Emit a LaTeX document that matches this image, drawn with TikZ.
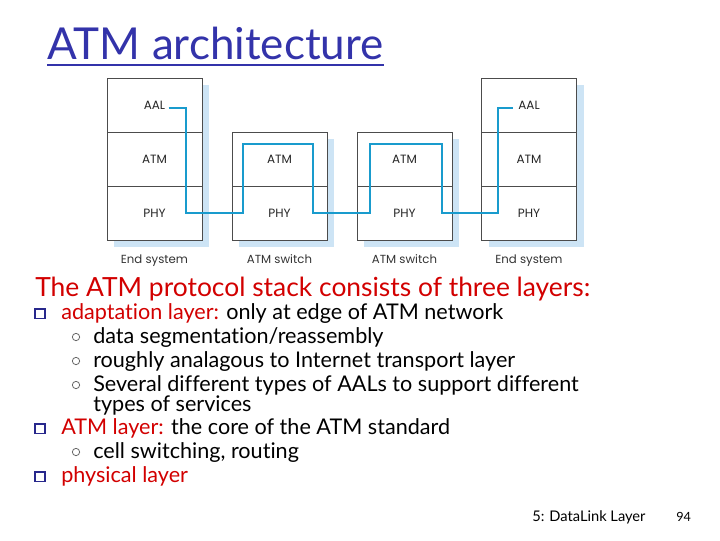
\documentclass[tikz,border=0pt]{standalone}
\usepackage{fontspec}
\setmainfont{Lato}[Ligatures={NoCommon}]
\newfontfamily\figfont{Poppins}
\usetikzlibrary{calc,positioning,fit,backgrounds}
\definecolor{titleblue}{RGB}{51,51,170}
\definecolor{termred}{RGB}{210,0,0}
\definecolor{linkblue}{RGB}{25,155,205}
\definecolor{shadowblue}{RGB}{205,228,245}
\definecolor{marknavy}{RGB}{40,40,140}

\tikzset{
  cell/.style={draw=black!70, line width=0.6pt, outer sep=0pt, fill=white, minimum width=71.25pt, minimum height=40.5pt, inner sep=0pt, font=\figfont\fontsize{9}{10}\selectfont, text=black!85},
  caption/.style={inner sep=0pt, font=\figfont\fontsize{8.8}{10}\selectfont, text=black!80},
  shade/.style={fill=shadowblue, inner sep=0pt, xshift=5.25pt, yshift=-5.25pt},
  link/.style={draw=linkblue, line width=1.3pt},
  heading/.style={anchor=base west, inner sep=0pt, font=\fontsize{19.8}{22}\selectfont, text=termred},
  item/.style={anchor=base west, inner sep=0pt, font=\fontsize{16.2}{17}\selectfont},
  box/.style={draw=marknavy, line width=1.2pt, minimum size=7.2pt, inner sep=0pt},
  ring/.style={circle, draw=black!60, line width=0.6pt, minimum size=5.5pt, inner sep=0pt},
}

\begin{document}
\begin{tikzpicture}[x=0.75pt, y=-0.75pt]
  \useasboundingbox (0,0) rectangle (720,540);

  % title
  \node[anchor=base west, inner sep=0pt, font=\fontsize{33}{35}\selectfont, text=titleblue] (title) at (47,59) {ATM architecture};
  \draw[titleblue, line width=1.8pt] ([yshift=-4.5pt]title.base west) -- ([yshift=-4.5pt]title.base east);

  % protocol stacks
  \node[cell] (aal1) at (154.5,105) {AAL};
  \node[cell, below=0pt of aal1] (atm1) {ATM};
  \node[cell, below=0pt of atm1] (phy1) {PHY};
  \node[cell] (atm2) at (279.5,159) {ATM};
  \node[cell, below=0pt of atm2] (phy2) {PHY};
  \node[cell] (atm3) at (404.5,159) {ATM};
  \node[cell, below=0pt of atm3] (phy3) {PHY};
  \node[cell] (aal4) at (529,105) {AAL};
  \node[cell, below=0pt of aal4] (atm4) {ATM};
  \node[cell, below=0pt of atm4] (phy4) {PHY};
  \begin{scope}[on background layer]
    \node[shade, fit=(aal1)(phy1)] (sh1) {};
    \node[shade, fit=(atm2)(phy2)] (sh2) {};
    \node[shade, fit=(atm3)(phy3)] (sh3) {};
    \node[shade, fit=(aal4)(phy4)] (sh4) {};
  \end{scope}

  \node[caption, below=11pt of phy1] (cap1) {End system};
  \node[caption, below=11pt of phy2] (cap2) {ATM switch};
  \node[caption, below=11pt of phy3] (cap3) {ATM switch};
  \node[caption, below=11pt of phy4] (cap4) {End system};

  % cell path
  \coordinate (ls) at ($(aal1.center)+(14,3)$);
  \coordinate (le) at ($(aal4.center)+(-16,3)$);
  \coordinate (d1) at (186,213);
  \coordinate (u1) at (243,144);
  \coordinate (d2) at (313,213);
  \coordinate (u2) at (370,144);
  \coordinate (d3) at (442,213);
  \coordinate (u3) at (498,108);
  \draw[link] (ls) -| (d1) -| (u1) -| (d2) -| (u2) -| (d3) -| (u3) -- (le);

  % text
  \node[heading] (head) at (35,296) {The ATM protocol stack consists of three layers:};
  \node[box] (m1) at (40,313.5) {};
  \node[item] (b1) at (61,319) {{\color{termred}adaptation layer:} only at edge of ATM network};
  \node[ring] (r1) at (76,337) {};
  \node[item] (s1) at (93,343) {data segmentation/reassembly};
  \node[ring] (r2) at (76,361) {};
  \node[item] (s2) at (93,367) {roughly analagous to Internet transport layer};
  \node[ring] (r3) at (76,385) {};
  \node[item] (s3) at (93,391) {Several different types of AALs to support different};
  \node[item] (s3b) at (93,411) {types of services};
  \node[box] (m2) at (40,428.5) {};
  \node[item] (b2) at (61,434) {{\color{termred}ATM layer:} the core of the ATM standard};
  \node[ring] (r4) at (76,452) {};
  \node[item] (s4) at (93,458) {cell switching, routing};
  \node[box] (m3) at (40,476.5) {};
  \node[item, text=termred] (b3) at (61,482) {physical layer};

  % footer
  \node[anchor=base west, inner sep=0pt, font=\fontsize{11}{12}\selectfont] (foot) at (532,521) {5: DataLink Layer};
  \node[anchor=base west, inner sep=0pt, font=\fontsize{9.5}{12}\selectfont] (page) at (676,521) {94};
\end{tikzpicture}
\end{document}
